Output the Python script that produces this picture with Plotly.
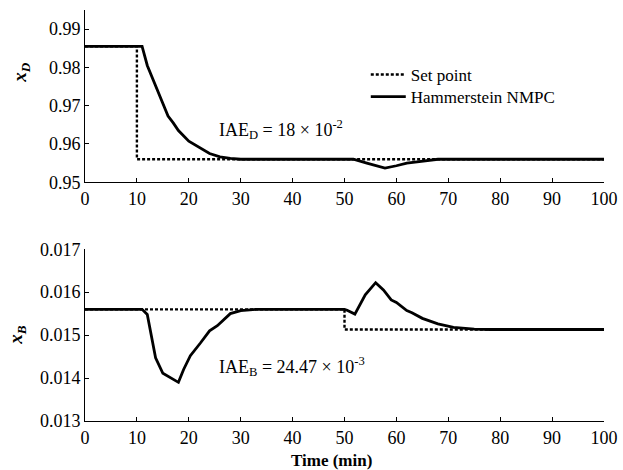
import plotly.graph_objects as go
from plotly.subplots import make_subplots

# ---- data ----
t_sp_d = [0, 10, 10, 100]
sp_d = [0.9855, 0.9855, 0.956, 0.956]

t_xd = [0, 11, 12, 13, 14, 15, 16, 17, 18, 20, 22, 24, 26, 28, 30, 40, 50, 51.7,
        54.3, 56, 57.8, 60, 62, 64, 66, 68, 70, 80, 90, 100]
xd = [0.9855, 0.9855, 0.9805, 0.9772, 0.9742, 0.9710, 0.9673, 0.9655, 0.9635, 0.9607,
      0.9590, 0.9575, 0.9566, 0.9562, 0.9560, 0.9560, 0.9560, 0.9560,
      0.9550, 0.9543, 0.9537, 0.9543, 0.9550, 0.9553, 0.9557, 0.9560, 0.9560, 0.9560, 0.9560, 0.9560]

t_sp_b = [0, 50, 50, 100]
sp_b = [0.0156, 0.0156, 0.01513, 0.01513]

t_xb = [0, 11, 12, 13, 13.6, 15, 18, 19, 20.3, 22.2, 24, 25.5, 28, 30, 33, 40, 50, 50.5,
        52, 54, 56, 57.5, 59, 60, 62, 63, 65, 68, 71, 75, 78, 90, 100]
xb = [0.0156, 0.0156, 0.01548, 0.01485, 0.01447, 0.01411, 0.0139, 0.01420, 0.01452, 0.01481,
      0.01510, 0.01522, 0.01550, 0.01557, 0.0156, 0.0156, 0.0156, 0.01558,
      0.01549, 0.01594, 0.01622, 0.01605, 0.01582, 0.01576, 0.01557, 0.01552, 0.01539,
      0.01526, 0.01518, 0.01514, 0.01513, 0.01513, 0.01513]

x_ticks = list(range(0, 101, 10))
yd_ticks = [0.95, 0.96, 0.97, 0.98, 0.99]
yd_labels = ["0.95", "0.96", "0.97", "0.98", "0.99"]
yb_ticks = [0.013, 0.014, 0.015, 0.016, 0.017]
yb_labels = ["0.013", "0.014", "0.015", "0.016", "0.017"]

FONT = "Liberation Serif"

fig = make_subplots(rows=2, cols=1, vertical_spacing=0.0)

fig.add_trace(go.Scatter(x=t_sp_d, y=sp_d, mode="lines", name="Set point", legend="legend",
                         line=dict(color="black", width=2.4, dash="3px,2px")), row=1, col=1)
fig.add_trace(go.Scatter(x=t_xd, y=xd, mode="lines", name="Hammerstein NMPC", legend="legend2",
                         line=dict(color="black", width=2.8)), row=1, col=1)
fig.add_trace(go.Scatter(x=t_sp_b, y=sp_b, mode="lines", name="Set point", showlegend=False,
                         line=dict(color="black", width=2.4, dash="3px,2px")), row=2, col=1)
fig.add_trace(go.Scatter(x=t_xb, y=xb, mode="lines", name="Hammerstein NMPC", showlegend=False,
                         line=dict(color="black", width=2.8)), row=2, col=1)

axis_common = dict(showline=True, linecolor="black", linewidth=1, ticks="inside",
                   ticklen=4, tickcolor="black", showgrid=False, zeroline=False,
                   mirror=False, automargin=False,
                   tickfont=dict(family=FONT, size=18, color="black"))

fig.update_xaxes(range=[0, 100], tickvals=x_ticks, **axis_common)
fig.update_layout(
    template="none",
    xaxis=dict(domain=[0, 1]),
    xaxis2=dict(domain=[0, 1]),
    yaxis=dict(domain=[0.581, 1.0], range=[0.95, 0.995], tickvals=yd_ticks,
               ticktext=yd_labels, **axis_common),
    yaxis2=dict(domain=[0.0, 0.418], range=[0.013, 0.017], tickvals=yb_ticks,
                ticktext=yb_labels, **axis_common),
)

fig.add_annotation(text="IAE<sub>D</sub> = 18 × 10<sup>-2</sup>", x=25.5, y=0.9637,
                   xref="x", yref="y", xanchor="left", yanchor="middle", showarrow=False,
                   font=dict(family=FONT, size=18, color="black"))
fig.add_annotation(text="IAE<sub>B</sub> = 24.47 × 10<sup>-3</sup>", x=25.5, y=0.01426,
                   xref="x2", yref="y2", xanchor="left", yanchor="middle", showarrow=False,
                   font=dict(family=FONT, size=18, color="black"))
fig.add_annotation(text="<b><i>x<sub>D</sub></i></b>", x=-0.124, y=0.849, xref="paper",
                   yref="paper", textangle=-90, showarrow=False,
                   xanchor="center", yanchor="middle",
                   font=dict(family=FONT, size=19, color="black"))
fig.add_annotation(text="<b><i>x<sub>B</sub></i></b>", x=-0.13, y=0.209, xref="paper",
                   yref="paper", textangle=-90, showarrow=False,
                   xanchor="center", yanchor="middle",
                   font=dict(family=FONT, size=19, color="black"))
fig.add_annotation(text="<b>Time (min)</b>", x=0.474, y=-0.095, xref="paper",
                   yref="paper", showarrow=False, xanchor="center", yanchor="middle",
                   font=dict(family=FONT, size=17, color="black"))

legend_style = dict(xanchor="left", yanchor="top", bgcolor="rgba(0,0,0,0)",
                    font=dict(family=FONT, size=17, color="black"), itemwidth=35)

fig.update_layout(
    width=623, height=470,
    margin=dict(l=85, r=19, t=10, b=49),
    paper_bgcolor="white", plot_bgcolor="white",
    font=dict(family=FONT, size=17, color="black"),
    legend=dict(x=0.541, y=0.8856, **legend_style),
    legend2=dict(x=0.541, y=0.832, **legend_style),
)

fig.write_html("out.html")
